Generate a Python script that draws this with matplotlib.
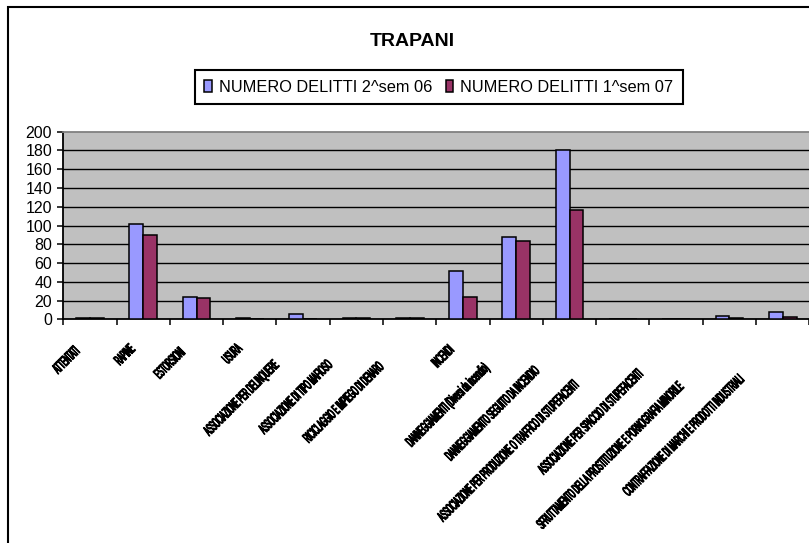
import numpy as np
import matplotlib
matplotlib.use('Agg')
import matplotlib.pyplot as plt
import matplotlib.patches as mpatches
from matplotlib.patheffects import AbstractPathEffect
from matplotlib.transforms import Affine2D, offset_copy

# dati
categorie = ['ATTENTATI', 'RAPINE', 'ESTORSIONI', 'USURA',
             'ASSOCIAZIONE PER DELINQUERE', 'ASSOCIAZIONE DI TIPO MAFIOSO',
             'RICICLAGGIO E IMPIEGO DI DENARO', 'INCENDI',
             'DANNEGGIAMENTI (Diversi da incendio)',
             'DANNEGGIAMENTO SEGUITO DA INCENDIO',
             'ASSOCIAZIONE PER PRODUZIONE O TRAFFICO DI STUPEFACENTI',
             'ASSOCIAZIONE PER SPACCIO DI STUPEFACENTI',
             'SFRUTTAMENTO DELLA PROSTITUZIONE E PORNOGRAFIA MINORILE',
             'CONTRAFFAZIONE DI MARCHI E PRODOTTI INDUSTRIALI']
sem2_06 = [1, 102, 24, 1, 6, 1, 1, 51, 88, 181, 0, 0, 3, 8]
sem1_07 = [1, 90, 23, 0, 0, 1, 1, 24, 83, 116, 0, 0, 1, 2]
serie = ['NUMERO DELITTI 2^sem 06', 'NUMERO DELITTI 1^sem 07']
yticks = list(range(0, 201, 20))
titolo = 'TRAPANI'


class Schiaccia(AbstractPathEffect):
    # stringe i caratteri lungo la riga (come le etichette compresse di excel)
    def __init__(self, sx=0.5, frac=0.7, spessore=0.6):
        super().__init__()
        self.sx = sx
        self.frac = frac
        self.spessore = spessore

    def draw_path(self, renderer, gc, tpath, affine, rgbFace=None):
        x0 = tpath.get_extents().x1 * self.frac
        sq = Affine2D().translate(-x0, 0).scale(self.sx, 1).translate(x0, 0)
        gc0 = renderer.new_gc()
        gc0.copy_properties(gc)
        gc0.set_linewidth(self.spessore)
        gc0.set_foreground(rgbFace)
        renderer.draw_path(gc0, tpath, sq + affine, rgbFace)
        gc0.restore()


plt.rcParams['font.family'] = ['Liberation Sans', 'DejaVu Sans']

W, H = 809, 543
fig = plt.figure(figsize=(W / 100, H / 100), dpi=100)
ax = fig.add_axes([63.3 / W, 1 - 319.3 / H, 746 / W, 187.6 / H])

# cornice esterna del grafico (tagliata a destra e in basso)
fig.patches.append(mpatches.Rectangle((8 / W, -0.1), 1.2, 1 - 7 / H + 0.1,
                                      transform=fig.transFigure, fill=False,
                                      lw=1.5, ec='black'))

x = np.arange(len(categorie))
bw = 0.26
ax.bar(x - bw / 2, sem2_06, bw, color='#9999FF', edgecolor='black', lw=1.1,
       label=serie[0], zorder=3)
ax.bar(x + bw / 2, sem1_07, bw, color='#993366', edgecolor='black', lw=1.1,
       label=serie[1], zorder=3)

ax.set_facecolor('#C0C0C0')
ax.set_xlim(-0.5, len(categorie) - 0.5)
ax.set_ylim(0, 200)
ax.set_yticks(yticks)
ax.yaxis.grid(True, color='black', lw=1.0)
ax.set_axisbelow(True)
gl = ax.get_ygridlines()
gl[0].set_visible(False)
gl[-1].set_visible(False)

ax.set_xticks(np.arange(len(categorie) + 1) - 0.5)
ax.set_xticklabels([])
ax.tick_params(axis='x', direction='out', length=4, width=1.1)
ax.tick_params(axis='y', direction='out', length=4, width=1.1, labelsize=11.5, pad=4)

for s in ['left', 'bottom']:
    ax.spines[s].set_linewidth(1.3)
ax.spines['top'].set_color('#808080')
ax.spines['top'].set_linewidth(1.3)
ax.spines['right'].set_visible(False)

sx = 0.41
trans = offset_copy(ax.get_xaxis_transform(), fig=fig, x=-7.5, y=-13, units='points')
for i, lab in enumerate(categorie):
    ax.text(i, 0, lab, transform=trans, rotation=45, rotation_mode='anchor',
            ha='right', va='top', fontsize=10.5, clip_on=False,
            path_effects=[Schiaccia(sx, (1 - 1.28 * sx) / (1 - sx), 0.85)])

fig.text(412 / W, 1 - 42 / H, titolo, ha='center', va='center',
         fontsize=14, fontweight='bold')

h, l = ax.get_legend_handles_labels()
leg = fig.legend(h, l, loc='center', bbox_to_anchor=(439 / W, 1 - 87 / H),
                 ncol=2, fontsize=11.8, frameon=True, fancybox=False,
                 edgecolor='black', framealpha=1, handlelength=0.45,
                 handleheight=0.7, handletextpad=0.45, columnspacing=0.8,
                 borderpad=0.55, borderaxespad=0)
leg.get_frame().set_linewidth(1.5)

fig.savefig('out.png', dpi=100)
